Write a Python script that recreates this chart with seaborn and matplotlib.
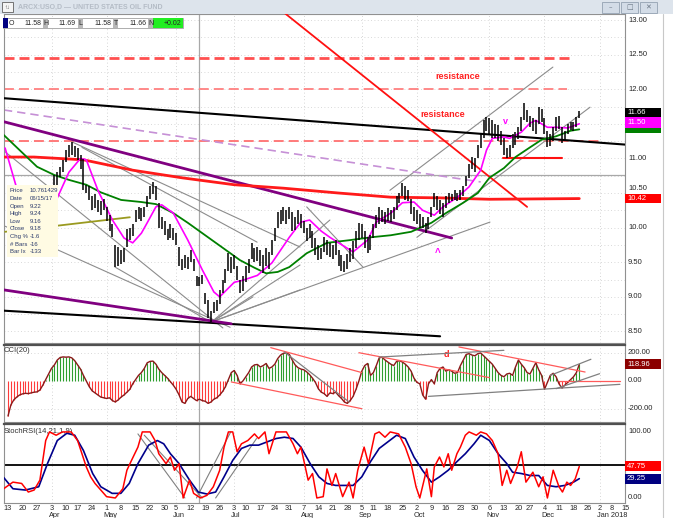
import matplotlib
matplotlib.use("Agg")
import matplotlib.pyplot as plt
from matplotlib.patches import Rectangle
import seaborn as sns
import numpy as np
import pandas as pd

# trading calendar (x axis is the bar index, as in the charting program)
holidays = pd.to_datetime(["2017-04-14", "2017-05-29", "2017-07-04", "2017-09-04",
                           "2017-11-23", "2017-12-25", "2018-01-01"])
bdays = pd.bdate_range("2017-03-13", "2018-01-19")
trade_days = bdays[~bdays.isin(holidays)]

# daily bars (high / low)
bar_hi = [10.47, 10.45, 10.55, 10.52, 10.50, 10.42, 10.32, 10.20, 10.22, 10.20,
          10.15, 10.30, 10.50, 10.58, 10.62, 10.60, 10.76, 10.80, 10.87, 10.98,
          11.12, 11.20, 11.24, 11.18, 11.15, 11.05, 10.99, 10.62, 10.60,
          10.45, 10.48, 10.40, 10.38, 10.42, 10.30, 10.18, 10.05, 9.75, 9.72,
          9.68, 9.70, 9.98, 10.00, 10.05, 10.25, 10.30, 10.28, 10.30, 10.45,
          10.60, 10.66, 10.60, 10.36, 10.15, 10.10, 9.98, 10.05, 10.00,
          9.92, 9.72, 9.55, 9.60, 9.58, 9.68, 9.55, 9.30, 9.28, 9.32,
          9.05, 8.95, 8.80, 8.92, 8.95, 9.10, 9.24, 9.40, 9.63, 9.57,
          9.60, 9.45, 9.25, 9.30, 9.45, 9.55, 9.78, 9.70, 9.72,
          9.68, 9.60, 9.70, 9.65, 9.82, 10.00, 10.22, 10.25, 10.30, 10.25,
          10.30, 10.22, 10.15, 10.25, 10.20, 10.10, 10.00, 10.05, 9.95, 9.85,
          9.75, 9.70, 9.86, 9.82, 9.78, 9.75, 9.82, 9.68, 9.60, 9.52,
          9.62, 9.70, 9.80, 9.95, 10.07, 10.05, 9.95, 9.86, 9.90,
          10.05, 10.18, 10.30, 10.25, 10.22, 10.28, 10.25, 10.30, 10.45, 10.50,
          10.64, 10.60, 10.55, 10.42, 10.30, 10.25, 10.20, 10.15, 10.07, 10.15,
          10.30, 10.50, 10.45, 10.40, 10.35, 10.45, 10.50, 10.48, 10.54, 10.50,
          10.54, 10.60, 10.75, 10.92, 11.02, 11.00, 11.20, 11.35, 11.55, 11.60,
          11.58, 11.55, 11.50, 11.48, 11.40, 11.30, 11.15, 11.20, 11.35, 11.38,
          11.45, 11.60, 11.80, 11.70, 11.62, 11.58, 11.55, 11.75, 11.72,
          11.58, 11.40, 11.36, 11.45, 11.60, 11.62, 11.45, 11.40, 11.50, 11.53,
          11.52, 11.60, 11.69]
bar_lo = [10.25, 10.28, 10.30, 10.38, 10.35, 10.25, 10.10, 10.02, 10.05, 10.05,
          10.00, 10.10, 10.28, 10.42, 10.48, 10.45, 10.59, 10.62, 10.73, 10.80,
          10.95, 11.02, 11.05, 11.02, 10.98, 10.85, 10.55, 10.50, 10.40,
          10.25, 10.28, 10.22, 10.18, 10.25, 10.10, 9.95, 9.86, 9.43, 9.45,
          9.48, 9.50, 9.72, 9.82, 9.88, 10.08, 10.12, 10.10, 10.15, 10.30,
          10.42, 10.48, 10.40, 10.00, 9.98, 9.90, 9.82, 9.85, 9.82,
          9.75, 9.45, 9.39, 9.42, 9.40, 9.50, 9.38, 9.15, 9.15, 9.18,
          8.90, 8.70, 8.64, 8.76, 8.80, 8.90, 9.05, 9.20, 9.38, 9.35,
          9.40, 9.25, 9.05, 9.08, 9.22, 9.35, 9.55, 9.50, 9.52,
          9.45, 9.35, 9.45, 9.40, 9.60, 9.80, 10.00, 10.05, 10.10, 10.05,
          10.12, 9.95, 9.97, 10.05, 10.00, 9.92, 9.80, 9.85, 9.70, 9.60,
          9.53, 9.55, 9.65, 9.60, 9.57, 9.55, 9.60, 9.45, 9.38, 9.36,
          9.40, 9.50, 9.55, 9.70, 9.82, 9.85, 9.70, 9.63, 9.68,
          9.85, 10.00, 10.05, 10.08, 10.05, 10.10, 10.08, 10.12, 10.25, 10.36,
          10.45, 10.40, 10.38, 10.20, 10.10, 10.05, 10.00, 10.00, 9.92, 9.98,
          10.15, 10.30, 10.25, 10.20, 10.15, 10.28, 10.35, 10.38, 10.40, 10.38,
          10.40, 10.45, 10.60, 10.72, 10.85, 10.80, 11.00, 11.15, 11.30, 11.40,
          11.35, 11.30, 11.30, 11.25, 11.20, 11.05, 11.00, 11.02, 11.15, 11.20,
          11.28, 11.40, 11.55, 11.52, 11.45, 11.40, 11.35, 11.50, 11.52,
          11.36, 11.16, 11.18, 11.25, 11.40, 11.42, 11.22, 11.25, 11.35, 11.41,
          11.40, 11.45, 11.58]

# moving averages, read at their turning points (bar index, price)
pink_idx = [-1, 3, 8, 12, 17, 21, 25, 27, 31, 36, 40, 43, 46, 48, 51, 53, 57, 62, 67,
            71, 73, 78, 81, 86, 91, 97, 101, 104, 108, 111, 114, 119, 124, 127, 132,
            136, 140, 143, 147, 150, 155, 159, 163, 165, 167, 171, 173, 177, 180,
            182, 186, 189, 193, 197]
pink_val = [11.15, 10.57, 10.25, 10.20, 10.43, 10.80, 11.00, 10.98, 10.54, 10.11,
            9.85, 9.78, 9.92, 10.07, 10.30, 10.33, 10.21, 9.82, 9.39, 9.07, 9.00,
            9.21, 9.24, 9.31, 9.49, 9.86, 10.08, 10.11, 9.95, 9.86, 9.78, 9.65,
            9.82, 10.08, 10.21, 10.36, 10.37, 10.25, 10.18, 10.30, 10.44, 10.59,
            10.83, 11.12, 11.29, 11.31, 11.29, 11.38, 11.51, 11.55, 11.45, 11.45,
            11.44, 11.50]
green_idx = [-1.5, 4, 10, 16, 21, 27, 32, 39, 46, 51, 57, 62, 69, 75, 80, 85, 89, 93,
             97, 103, 110, 118, 125, 132, 139, 146, 151, 157, 162, 166, 171, 175,
             180, 184, 189, 194, 197]
green_val = [11.34, 11.12, 10.88, 10.76, 10.69, 10.62, 10.51, 10.40, 10.37, 10.34,
             10.21, 10.07, 9.86, 9.68, 9.53, 9.42, 9.34, 9.36, 9.43, 9.63, 9.78,
             9.82, 9.86, 9.89, 9.94, 10.07, 10.21, 10.36, 10.50, 10.72, 10.86,
             11.02, 11.16, 11.27, 11.32, 11.40, 11.42]
red_idx = [-1.5, 9, 26, 43, 60, 78, 95, 114, 132, 149, 166, 197]
red_val = [11.02, 11.02, 10.98, 10.83, 10.72, 10.62, 10.57, 10.50, 10.44, 10.43,
           10.41, 10.42]

# CCI(20), one value per bar
cci = [-250, -170, -135, -115, -100, -92, -88, -90, -85, -80,
       -78, -65, -30, 10, 50, 90, 115, 150, 168, 172,
       170, 172, 165, 145, 115, 85, 40, 0, -40, -70,
       -85, -100, -115, -120, -125, -120, -140, -150, -135, -115,
       -100, -80, -60, -20, 10, 40, 60, 90, 130, 140,
       142, 120, 85, 60, 40, 20, -5, -30, -60, -100,
       -150, -160, -125, -110, -125, -140, -130, -140, -145, -160,
       -150, -130, -120, -100, -75, -40, 10, 60, 75, 40,
       -20, 0, 30, 60, 100, 115, 118, 100, 110, 125,
       90, 100, 120, 160, 185, 198, 200, 190, 150, 115,
       95, 85, 80, 65, 45, 20, -10, -55, -80, -90,
       -110, -85, -90, -80, -105, -125, -150, -160, -140, -110,
       -60, 0, 70, 110, 125, 40, 60, 110, 165, 170,
       150, 135, 120, 110, 140, 145, 135, 120, 100, 70,
       20, -10, -20, -100, -130, -20, 10, -20, 60, 90,
       100, 70, 80, 70, 55, 60, 110, 150, 190, 195,
       185, 180, 195, 200, 180, 160, 140, 120, 90, 60,
       40, 30, 50, 55, 40, 100, 150, 120, 95, 60,
       50, 90, 130, 80, 40, -60, -10, 40, 55, 30,
       -20, -50, -30, -10, 10, 30, 60, 118.96]

# StochRSI(14,21,1,9): fast (red) and slow (blue) lines, read at turning points
k_idx = [-1.5, 1.7, 4.7, 7, 9, 11, 13, 14.3, 16.6, 18.8, 21.8, 24, 25.5, 27, 28.5, 30,
         32, 34, 37, 39.6, 41, 42.6, 44.8, 46.3, 49, 50.7, 52, 54.5, 56, 57.4, 59,
         60.4, 62.6, 64, 66.4, 68.6, 70.8, 73, 74.5, 76, 77.5, 79, 80.5, 82.7, 85,
         86.4, 88.6, 90, 92.4, 96, 98.3, 99.8, 101, 103.5, 105, 106.5, 108.7, 110,
         111.7, 113, 115.4, 117.6, 119, 120.6, 122.8, 124.3, 126.5, 128, 130, 131.8,
         134.7, 137, 139, 140.7, 142, 144.4, 146, 147, 148.8, 150.3, 151.8, 153,
         154.8, 156, 157.7, 159, 161.5, 163, 165, 167, 169, 170.4, 172, 173.3, 175.6,
         177, 178.6, 181, 183, 184.5, 186, 188, 190, 191.2, 192.7, 194, 195.6, 197]
k_val = [14, 24, 22, 9, 12, 27, 87, 100, 95, 100, 100, 87, 67, 47, 32, 22,
         12, 2, 0, 14, 42, 57, 77, 100, 100, 87, 67, 52, 62, 42, 52,
         0, 27, 7, 0, 4, 17, 42, 77, 100, 100, 70, 82, 87, 97,
         90, 100, 67, 100, 100, 82, 67, 77, 27, 37, 0, 2, 44,
         19, 37, 2, 24, 0, 42, 77, 52, 97, 100, 92, 100,
         97, 77, 52, 17, 0, 44, 2, 47, 62, 47, 67, 42,
         67, 77, 95, 100, 95, 100, 97, 87, 67, 19, 42, 22, 47,
         70, 24, 39, 17, 32, 0, 42, 17, 9, 24, 19, 29, 47.75]
d_idx = [-1.5, 1.7, 6, 10.6, 13.6, 17, 20.3, 23, 26, 29.2, 32, 35.9, 38.9, 41.8, 44.8,
         48.5, 51.5, 53.7, 56, 59, 62.6, 65.6, 68.6, 71.6, 74.5, 77.5, 80.5, 83.4,
         86.4, 89.4, 92.4, 95.3, 98.3, 101, 104.2, 107.2, 110, 113, 116, 119, 122,
         125, 128, 131, 134, 137, 140, 142.9, 146, 148.8, 151.8, 154.8, 157.7,
         160.7, 163, 166, 169, 172, 174, 177, 180, 183, 186, 189, 192, 195, 197]
d_val = [31, 14, 12, 17, 52, 87, 98, 95, 72, 37, 17, 7, 7, 22, 52,
         80, 87, 82, 67, 52, 27, 9, 6, 9, 32, 57, 75, 80,
         80, 85, 90, 92, 90, 77, 52, 32, 22, 19, 19, 19, 32,
         55, 75, 85, 95, 90, 62, 42, 24, 32, 42, 55, 67,
         82, 95, 87, 67, 52, 39, 37, 34, 34, 19, 17, 19, 24, 29.25]

# hand-drawn study lines: (index0, value0, index1, value1)
gray_lines = [(-1.7, 11.12, 74.1, 8.55), (-1, 10.02, 76.6, 8.56), (36.9, 9.43, 69.7, 8.64),
              (22, 11.24, 100.7, 9.72), (25.5, 11.16, 85.9, 9.79), (103, 10.30, 122.4, 9.43),
              (70.3, 8.64, 111, 10.11), (70.3, 8.64, 166.2, 10.08), (70.3, 8.64, 84.5, 9.0),
              (70.3, 8.64, 100.7, 9.10), (70.3, 8.64, 100.7, 9.46),
              (131.7, 10.54, 187.9, 12.32), (141, 9.86, 200.7, 11.74)]
black_lines = [(-1.4, 11.87, 212.8, 11.20), (-1.4, 8.80, 149, 8.43)]
purple_lines = [(-1.4, 11.53, 153, 9.85), (-1.4, 9.10, 77, 8.61)]
purple_dash = (-1.4, 11.70, 163, 10.66)
olive_line = (-1.0, 9.94, 42, 10.15)
red_diag = (94.8, 13.12, 179, 10.30)
red_short = (170.7, 11.00, 191, 11.00)
resist_levels = [12.45, 12.00, 11.25]
resist_ends = [194.8, 192.8, 204]
cci_red = [(77, -7, 122, -198), (90.6, 238, 122, 60), (121, 202, 166, 24),
           (155.5, 243, 199, 64), (190, 0, 211, 0)]
cci_gray = [(95.3, 207, 117.6, -150), (128, 171, 171, 219), (145, -110, 211, -24),
            (187, 40, 201, 155), (189, -55, 204, 52)]
stoch_gray = [(44.8, 97, 61, 0), (47, 95, 67, 0), (65, 0, 76.8, 100), (71.6, 0, 85.7, 90)]

price_ticks = [13.0, 12.5, 12.0, 11.0, 10.5, 10.0, 9.5, 9.0, 8.5]

cross_idx = 66
cross_price = 10.761429

# ---------------------------------------------------------------
sns.set_style("white")
plt.rcParams["font.family"] = ["Liberation Sans", "DejaVu Sans"]

W, H = 673, 518
fig = plt.figure(figsize=(W / 100, H / 100), dpi=100)
fig.patch.set_facecolor("white")


def panel(y0, y1):
    return fig.add_axes([4 / W, 1 - y1 / H, 621 / W, (y1 - y0) / H])


def frect(x, y, w, h, **kw):
    fig.patches.append(Rectangle((x / W, 1 - (y + h) / H), w / W, h / H,
                                 transform=fig.transFigure, **kw))


def ftext(x, y, s, **kw):
    fig.text(x / W, 1 - y / H, s, **kw)


def value_box(axis, y, h, text, fc, tc="white"):
    tr = axis.get_yaxis_transform()
    axis.add_patch(Rectangle((1.0, y - h / 2), 36 / 621, h, transform=tr, facecolor=fc,
                             edgecolor="none", clip_on=False, zorder=5))
    if text:
        axis.text(1.0 + 2 / 621, y, text, transform=tr, color=tc, fontsize=5.5,
                  va="center", ha="left", zorder=6, clip_on=False)


def right_label(axis, y, text):
    axis.text(1.0 + 3 / 621, y, text, transform=axis.get_yaxis_transform(), fontsize=5.5,
              va="center", ha="left", clip_on=False)


x = np.arange(len(bar_hi))
xlim = (-1.38, 212.76)

# week ticks: first trading day of every week
week_first = pd.Series(np.arange(len(trade_days)), index=trade_days)
week_first = week_first.groupby(trade_days.to_period("W")).min()
tick_pos = [int(p) for p in week_first.values if trade_days[int(p)] <= pd.Timestamp("2018-01-15")]
month_pos = [p for k, p in enumerate(tick_pos)
             if k > 0 and trade_days[p].month != trade_days[tick_pos[k - 1]].month]

ax = panel(14, 343)
ax_cci = panel(345, 422)
ax_st = panel(424, 503)

for a in (ax, ax_cci, ax_st):
    a.set_xlim(*xlim)
    a.set_xticks([])
    a.set_yticks([])
    for s in a.spines.values():
        s.set_color("#909090")
        s.set_linewidth(0.8)
    for p in month_pos:
        a.axvline(p, color="#c8c8c8", lw=0.6, ls=(0, (1, 3)), zorder=0)
    a.axvline(cross_idx, color="#a8a8a8", lw=0.9, zorder=1)
for a in (ax_cci, ax_st):
    a.spines["top"].set_color("#505050")
    a.spines["top"].set_linewidth(1.6)

# ---- price panel ----
ax.set_ylim(8.333, 13.087)
for p in np.arange(8.5, 13.01, 0.25):
    ax.axhline(p, color="#cccccc", lw=0.6, ls=(0, (1, 3)), zorder=0)
for t in price_ticks:
    # the 10.50 label peeks out above the 10.42 marker box
    right_label(ax, t + (0.07 if t == 10.5 else 0), f"{t:.2f}")
ax.axhline(cross_price, color="#a8a8a8", lw=0.9, zorder=1)

for lvl, end, col, lw, dash in zip(resist_levels, resist_ends,
                                    ["#ff5050", "#ff8080", "#ff7070"], [2.0, 1.3, 1.3],
                                    [(3.6, 1.8), (5.5, 2.8), (5.5, 2.8)]):
    ax.plot([xlim[0], end], [lvl, lvl], color=col, lw=lw, ls=(0, dash), zorder=2)

for g in gray_lines:
    ax.plot([g[0], g[2]], [g[1], g[3]], color="#8c8c8c", lw=0.8, zorder=2)
for b in black_lines:
    ax.plot([b[0], b[2]], [b[1], b[3]], color="black", lw=1.5, zorder=3)
for pl in purple_lines:
    ax.plot([pl[0], pl[2]], [pl[1], pl[3]], color="#800080", lw=2.0, zorder=3)
ax.plot([purple_dash[0], purple_dash[2]], [purple_dash[1], purple_dash[3]],
        color="#c690d6", lw=1.2, ls=(0, (5, 3)), zorder=2)
ax.plot([olive_line[0], olive_line[2]], [olive_line[1], olive_line[3]],
        color="#9a9a20", lw=1.3, zorder=3)
ax.plot([red_diag[0], red_diag[2]], [red_diag[1], red_diag[3]], color="#ff1010", lw=1.3, zorder=3)
ax.plot([red_short[0], red_short[2]], [red_short[1], red_short[3]], color="#ff1010", lw=1.5, zorder=3)

sns.lineplot(x=red_idx, y=red_val, ax=ax, color="#ff1a1a", lw=2.0, sort=False, zorder=3)
sns.lineplot(x=green_idx, y=green_val, ax=ax, color="#008000", lw=1.3, sort=False, zorder=4)
sns.lineplot(x=pink_idx, y=pink_val, ax=ax, color="#ff00ff", lw=1.2, sort=False, zorder=4)
ax.vlines(x, bar_lo, bar_hi, color="black", lw=1.1, zorder=5)

ax.text(155, 12.18, "resistance", color="#ff2020", fontsize=6.5, fontweight="bold",
        ha="center", va="center")
ax.text(150, 11.64, "resistance", color="#ff2020", fontsize=6.5, fontweight="bold",
        ha="center", va="center")
ax.text(171.7, 11.53, "v", color="#ff00ff", fontsize=6.5, fontweight="bold",
        ha="center", va="center")
ax.text(148.3, 9.63, "^", color="#ff00ff", fontsize=7, fontweight="bold",
        ha="center", va="center")
ax.set_xlabel("")
ax.set_ylabel("")

# green 11.42 marker sits mostly hidden under the magenta one
value_box(ax, 11.44, 0.14, "", "#008000")
value_box(ax, 11.52, 0.15, "11.50", "#ff00ff")
value_box(ax, 11.66, 0.13, "11.66", "black")
value_box(ax, 10.42, 0.14, "10.42", "#ff0000")

# ---- CCI panel ----
ax_cci.set_ylim(-293, 257)
for v in (200, -200):
    ax_cci.axhline(v, color="#cccccc", lw=0.6, ls=(0, (1, 3)), zorder=0)
cci_arr = np.array(cci)
ax_cci.vlines(x, 0, cci_arr, colors=np.where(cci_arr >= 0, "#2e9e2e", "#ff3b3b"),
              lw=0.8, zorder=2)
sns.lineplot(x=x, y=cci_arr, ax=ax_cci, color="#8b1a1a", lw=1.0, zorder=3)
for c in cci_red:
    ax_cci.plot([c[0], c[2]], [c[1], c[3]], color="#ff5a5a", lw=0.9, zorder=4)
for c in cci_gray:
    ax_cci.plot([c[0], c[2]], [c[1], c[3]], color="#808080", lw=0.9, zorder=4)
ax_cci.text(151, 190, "d", color="#ff2020", fontsize=6.5, fontweight="bold",
            ha="center", va="center")
right_label(ax_cci, 200, "200.00")
right_label(ax_cci, 0, "0.00")
right_label(ax_cci, -200, "-200.00")
ax_cci.text(0.0, 0.93, "CCI(20)", transform=ax_cci.transAxes, fontsize=5.5,
            color="#303030", va="center")
value_box(ax_cci, 118.96, 71, "118.96", "#8b0000")
ax_cci.set_xlabel("")
ax_cci.set_ylabel("")

# ---- StochRSI panel ----
ax_st.set_ylim(-7.6, 112)
ax_st.axhline(50, color="black", lw=1.3, zorder=2)
for g in stoch_gray:
    ax_st.plot([g[0], g[2]], [g[1], g[3]], color="#808080", lw=0.8, zorder=2)
sns.lineplot(x=k_idx, y=k_val, ax=ax_st, color="#ff0000", lw=1.1, sort=False, zorder=4)
sns.lineplot(x=d_idx, y=d_val, ax=ax_st, color="#00008b", lw=1.2, sort=False, zorder=3)
right_label(ax_st, 100, "100.00")
right_label(ax_st, 0, "0.00")
ax_st.text(0.0, 0.9, "StochRSI(14,21,1,9)", transform=ax_st.transAxes, fontsize=5.5,
           color="#303030", va="center")
value_box(ax_st, 47.75, 15, "47.75", "#ff0000")
value_box(ax_st, 29.25, 15, "29.25", "#000080")
ax_st.set_xlabel("")
ax_st.set_ylabel("")

# date labels under the bottom panel
xtr = ax_st.get_xaxis_transform()
for p in tick_pos:
    ax_st.text(p, -0.07, str(trade_days[p].day), transform=xtr, fontsize=5.3,
               ha="center", va="center", clip_on=False)
    if p in month_pos:
        name = trade_days[p].strftime("%b")
        if trade_days[p].year == 2018:
            name = "Jan 2018"
        ax_st.text(p - 1, -0.16, name, transform=xtr, fontsize=5.3,
                   ha="left", va="center", clip_on=False)

# ---- window chrome ----
frect(0, 0, W, 14, facecolor="#dde4ec", edgecolor="none", zorder=8)
frect(2, 2, 11, 10, facecolor="#f4f4f4", edgecolor="#606060", lw=0.6, zorder=9)
ftext(7.5, 7.5, "\u2191\u2193", fontsize=4, ha="center", va="center", color="#404040", zorder=10)
ftext(18, 7.5, "ARCX:USO,D \u2014 UNITED STATES OIL FUND", fontsize=5, fontweight="bold",
      color="#b4bcc6", va="center", zorder=10)
for bx, glyph in zip([602, 621, 640], ["\u2013", "\u25a1", "\u2715"]):
    frect(bx, 2, 17, 11, facecolor="#d3dce7", edgecolor="#94a2b2", lw=0.6, zorder=9)
    ftext(bx + 8.5, 7.5, glyph, fontsize=5, ha="center", va="center", color="#6a7684",
          family=["DejaVu Sans"], zorder=10)
fig.lines.append(plt.Line2D([663 / W, 663 / W], [0, 1 - 14 / H], transform=fig.transFigure,
                            color="#c8c8c8", lw=0.8))

# OHLC strip
frect(3, 18, 180, 10, facecolor="white", edgecolor="#a0a0a0", lw=0.6, zorder=9)
frect(3, 18, 5, 10, facecolor="#000080", edgecolor="none", zorder=10)
ftext(9, 23.3, "O", fontsize=5, va="center", zorder=11)
strip_vals = ["11.58", "11.69", "11.58", "11.66"]
strip_labels = ["H", "L", "T", "N"]
for k, (val, lab) in enumerate(zip(strip_vals, strip_labels)):
    bx = 43 + 35 * k
    ftext(bx - 2, 23.3, val, fontsize=5, ha="right", va="center", zorder=11)
    frect(bx, 18, 5, 10, facecolor="#b8b8b8", edgecolor="none", zorder=10)
    ftext(bx + 0.5, 23.3, lab, fontsize=5, va="center", zorder=11)
frect(153, 18, 30, 10, facecolor="#22ee22", edgecolor="none", zorder=10)
ftext(181, 23.3, "+0.02", fontsize=5, ha="right", va="center", zorder=11)

# data tooltip
frect(7, 185, 51, 72, facecolor="#fffbe3", edgecolor="none", zorder=9)
tip_labels = ["Price", "Date", "Open", "High", "Low", "Close", "Chg %", "# Bars", "Bar Ix"]
tip_values = ["10.761429", "06/15/17", "9.22", "9.24", "9.16", "9.18", "-1.6", "-16", "-133"]
for k, (lab, val) in enumerate(zip(tip_labels, tip_values)):
    yy = 191 + 7.6 * k
    ftext(10, yy, lab, fontsize=4.3, color="#2b3a6b", va="center", zorder=10)
    ftext(30, yy, val, fontsize=4.3, color="#2b3a6b", va="center", zorder=10)

fig.savefig("out.png", dpi=100)
